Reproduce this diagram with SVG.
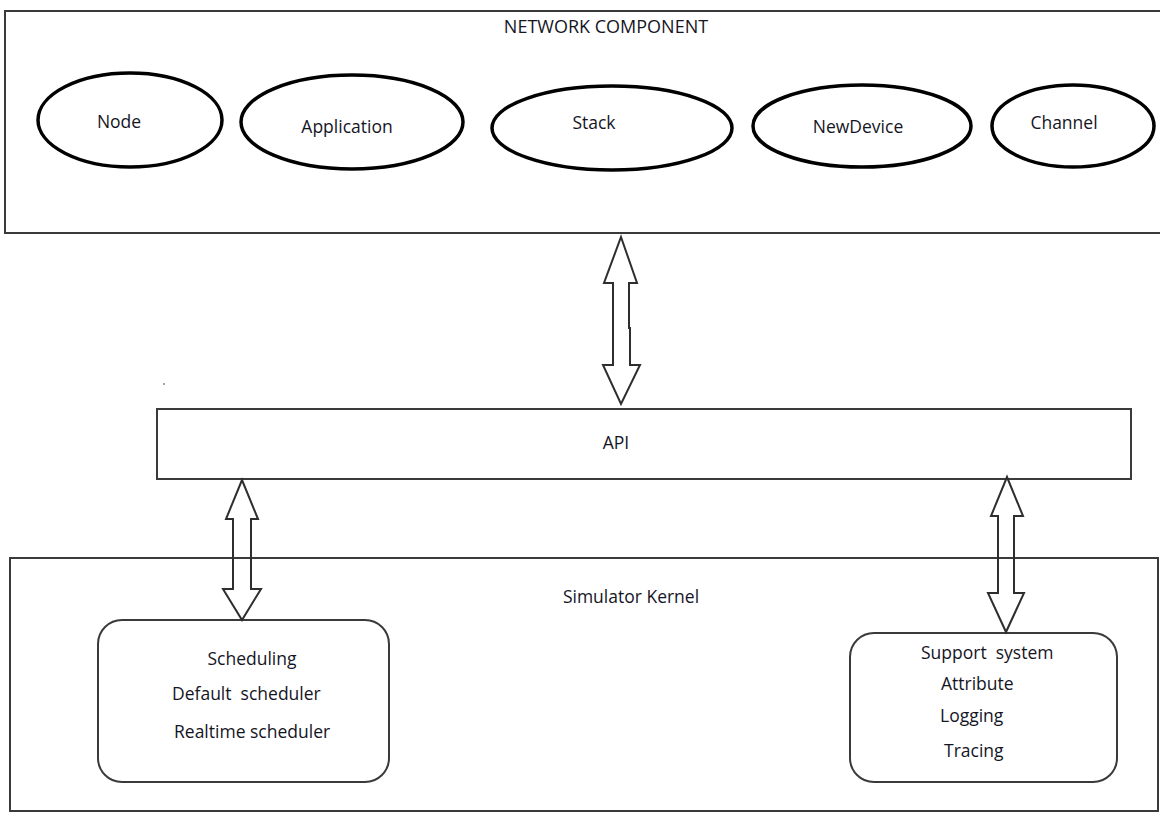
<svg xmlns="http://www.w3.org/2000/svg" width="1160" height="813" viewBox="0 0 1160 813">
  <style>
    .frame { fill: none; stroke: #3a3a3a; stroke-width: 2; }
    .oval { fill: #ffffff; stroke: #000000; stroke-width: 3.5; }
    .card { fill: #ffffff; stroke: #3a3a3a; stroke-width: 2; }
    .label { font-family: "Open Sans", "Noto Sans", sans-serif; font-size: 17.5px; fill: #15151f; }
    .title { font-size: 18px; }
    .mid { text-anchor: middle; }
    .dbl { fill: none; stroke: #2e2e2e; stroke-width: 2; stroke-linejoin: miter; }
  </style>
  <rect width="1160" height="813" fill="#ffffff"/>

  <!-- Network component layer -->
  <g id="network-component">
    <rect class="frame" x="5" y="11" width="1158" height="222"/>
    <text class="label title mid" x="606" y="33">NETWORK COMPONENT</text>
  </g>
  <g id="node-node">
    <ellipse class="oval" cx="130" cy="120" rx="92" ry="47"/>
    <text class="label mid" x="119" y="128">Node</text>
  </g>
  <g id="node-application">
    <ellipse class="oval" cx="352" cy="122" rx="111" ry="47"/>
    <text class="label mid" x="347" y="133">Application</text>
  </g>
  <g id="node-stack">
    <ellipse class="oval" cx="612" cy="128" rx="120" ry="42"/>
    <text class="label mid" x="594" y="129">Stack</text>
  </g>
  <g id="node-newdevice">
    <ellipse class="oval" cx="862" cy="126" rx="109" ry="41"/>
    <text class="label mid" x="858" y="133">NewDevice</text>
  </g>
  <g id="node-channel">
    <ellipse class="oval" cx="1073" cy="126" rx="81" ry="41"/>
    <text class="label mid" x="1064" y="129">Channel</text>
  </g>

  <!-- API layer -->
  <g id="api">
    <rect class="frame" x="157" y="409" width="974" height="70"/>
    <text class="label mid" x="616" y="449">API</text>
  </g>

  <!-- Simulator kernel -->
  <g id="simulator-kernel">
    <rect class="frame" x="10" y="558" width="1148" height="253"/>
    <text class="label mid" x="631" y="603">Simulator Kernel</text>
  </g>
  <g id="scheduling">
    <rect class="card" x="98" y="620" width="291" height="162" rx="24" ry="24"/>
    <text class="label mid" x="252" y="665">Scheduling</text>
    <text class="label" x="172" y="700" xml:space="preserve">Default  scheduler</text>
    <text class="label" x="174" y="738">Realtime scheduler</text>
  </g>
  <g id="support-system">
    <rect class="card" x="850" y="633" width="267" height="149" rx="24" ry="24"/>
    <text class="label" x="921" y="659" xml:space="preserve">Support  system</text>
    <text class="label" x="941" y="690">Attribute</text>
    <text class="label" x="940" y="722">Logging</text>
    <text class="label" x="944" y="757">Tracing</text>
  </g>

  <!-- stray dot on the page -->
  <circle cx="164" cy="384" r="0.9" fill="#777777"/>

  <!-- Connectors: hollow double-headed block arrows -->
  <g id="connectors">
    <path class="dbl" d="M621,237 L637,283 L629,283 L629,328 L630,328 L630,365 L640,365 L621,404 L603,365 L613,365 L613,283 L604,283 Z"/>
    <path class="dbl" d="M242,480 L258,519 L251,519 L251,589 L261,589 L242,620 L223,589 L233,589 L233,519 L226,519 Z"/>
    <path class="dbl" d="M1007,477 L1023,516 L1014,516 L1014,593 L1024,593 L1006,632 L988,593 L998,593 L998,516 L991,516 Z"/>
  </g>
</svg>
